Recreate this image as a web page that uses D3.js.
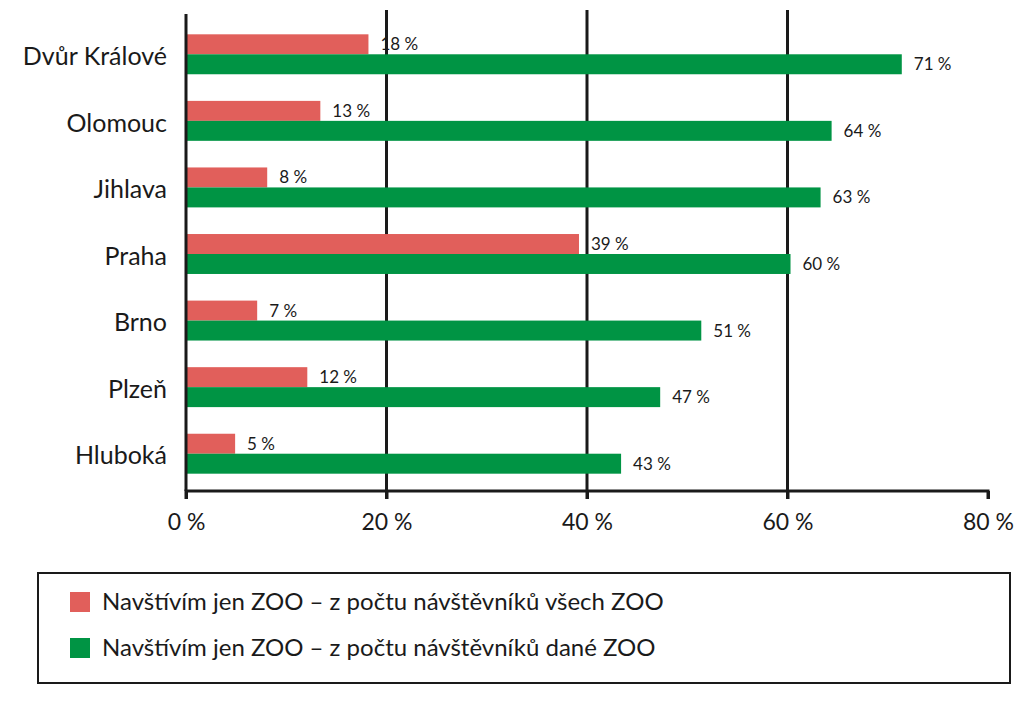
<!DOCTYPE html>
<html>
<head>
<meta charset="utf-8">
<script src="https://cdn.jsdelivr.net/npm/d3@7"></script>
<style>
  body { margin: 0; background: #fff; }
  svg { display: block; }
</style>
</head>
<body>
<svg id="chart" width="1024" height="708"></svg>
<script>
const zoos = ["Dvůr Králové", "Olomouc", "Jihlava", "Praha", "Brno", "Plzeň", "Hluboká"];
const allZooShare = [18.2, 13.4, 8.1, 39.2, 7.1, 12.1, 4.9];
const thisZooShare = [71.4, 64.4, 63.3, 60.3, 51.4, 47.3, 43.4];
const xTicks = [0, 20, 40, 60, 80];
const seriesNames = [
  "Navštívím jen ZOO – z počtu návštěvníků všech ZOO",
  "Navštívím jen ZOO – z počtu návštěvníků dané ZOO"
];
const colors = ["#e15f5b", "#009444"];

const svg = d3.select("#chart");
const labelFont = "Lato, 'Open Sans', sans-serif";
const numFont = "Lato, 'Open Sans', sans-serif";

const x = d3.scaleLinear().domain([0, 80]).range([186, 988]);
const y = d3.scaleBand().domain(zoos).range([21, 487]).paddingInner(0.4).paddingOuter(0.2);
const half = y.bandwidth() / 2;
const axisY = 491;

// gridlines
svg.append("g")
  .selectAll("line")
  .data(xTicks.filter((d) => d > 0 && d < 80))
  .join("line")
  .attr("x1", (d) => x(d)).attr("x2", (d) => x(d))
  .attr("y1", 10).attr("y2", axisY + 8)
  .attr("stroke", "#1a1a1a").attr("stroke-width", 3);

// bars
const rows = zoos.map((z, i) => ({ zoo: z, a: allZooShare[i], b: thisZooShare[i] }));
const g = svg.append("g");

g.selectAll(".bar-a").data(rows).join("rect")
  .attr("class", "bar-a")
  .attr("x", x(0)).attr("y", (d) => y(d.zoo))
  .attr("width", (d) => x(d.a) - x(0)).attr("height", half)
  .attr("fill", colors[0]);

g.selectAll(".bar-b").data(rows).join("rect")
  .attr("class", "bar-b")
  .attr("x", x(0)).attr("y", (d) => y(d.zoo) + half)
  .attr("width", (d) => x(d.b) - x(0)).attr("height", half)
  .attr("fill", colors[1]);

// value labels
const fmt = (v) => Math.round(v) + " %";
g.selectAll(".lab-a").data(rows).join("text")
  .attr("x", (d) => x(d.a) + 12).attr("y", (d) => y(d.zoo) + half / 2)
  .attr("dy", "0.35em")
  .attr("font-family", numFont).attr("font-size", 17).attr("fill", "#1a1a1a")
  .text((d) => fmt(d.a));

g.selectAll(".lab-b").data(rows).join("text")
  .attr("x", (d) => x(d.b) + 12).attr("y", (d) => y(d.zoo) + half * 1.5)
  .attr("dy", "0.35em")
  .attr("font-family", numFont).attr("font-size", 17).attr("fill", "#1a1a1a")
  .text((d) => fmt(d.b));

// x axis
const xAxis = d3.axisBottom(x).tickValues(xTicks).tickSize(8).tickPadding(15)
  .tickFormat((d) => d + " %");
const xg = svg.append("g").attr("transform", `translate(0,${axisY})`).call(xAxis);
xg.select(".domain").attr("stroke", "#1a1a1a").attr("stroke-width", 3)
  .attr("d", `M${x(0)},8V0H${x(80)}V8`);
xg.selectAll(".tick line").attr("stroke", "#1a1a1a").attr("stroke-width", 3);
xg.selectAll(".tick text").attr("font-family", numFont).attr("font-size", 23).attr("fill", "#1a1a1a");

// y axis line
svg.append("line")
  .attr("x1", x(0)).attr("x2", x(0)).attr("y1", 14).attr("y2", axisY)
  .attr("stroke", "#1a1a1a").attr("stroke-width", 3);

// category labels
svg.append("g").selectAll("text").data(zoos).join("text")
  .attr("x", 167).attr("y", (d) => y(d) + y.bandwidth() / 2 + 2)
  .attr("dy", "0.35em").attr("text-anchor", "end")
  .attr("font-family", labelFont).attr("font-size", 25).attr("fill", "#1a1a1a")
  .text((d) => d);

// legend
const legend = svg.append("g");
legend.append("rect")
  .attr("x", 38).attr("y", 573).attr("width", 972).attr("height", 110)
  .attr("fill", "none").attr("stroke", "#1a1a1a").attr("stroke-width", 2);
const items = legend.selectAll(".item").data(seriesNames).join("g")
  .attr("transform", (d, i) => `translate(70,${602 + i * 46})`);
items.append("rect").attr("x", 0).attr("y", -10).attr("width", 20).attr("height", 20)
  .attr("fill", (d, i) => colors[i]);
items.append("text").attr("x", 32).attr("dy", "0.35em")
  .attr("font-family", labelFont).attr("font-size", 24).attr("fill", "#1a1a1a")
  .text((d) => d);
</script>
</body>
</html>
